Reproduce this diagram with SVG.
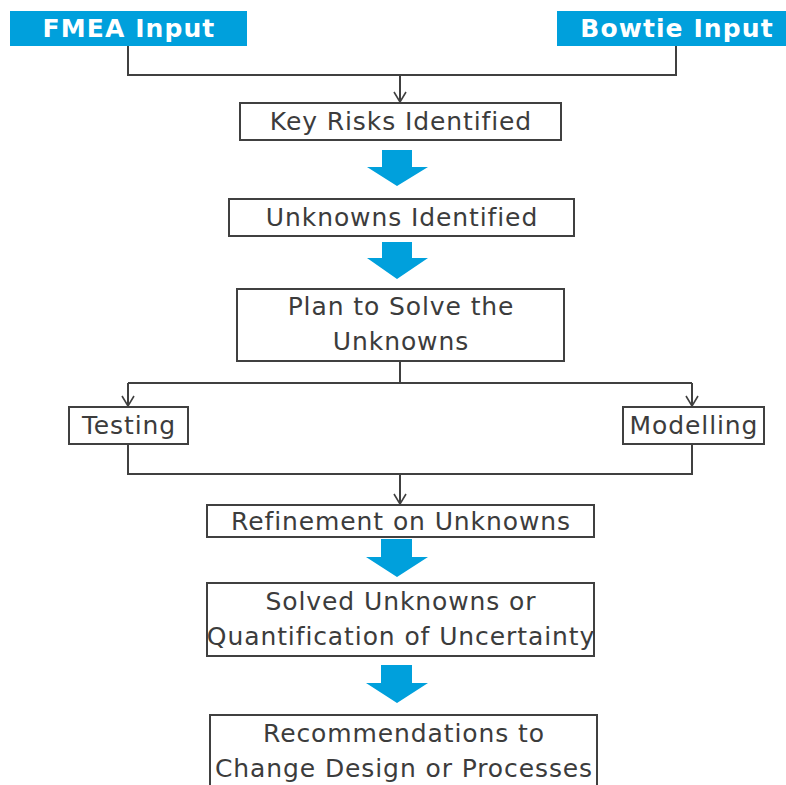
<svg xmlns="http://www.w3.org/2000/svg" width="786" height="785" viewBox="0 0 786 785">
<style>
.box{fill:#fff;stroke:#404040;stroke-width:2}
.in{fill:#00a0dc}
.t{font-family:"DejaVu Sans",Verdana,sans-serif;font-size:25px;fill:#3c3c3c;text-anchor:middle;letter-spacing:0.9px}
.tb{font-family:"DejaVu Sans",Verdana,sans-serif;font-size:25px;font-weight:bold;fill:#fff;text-anchor:middle;letter-spacing:1.1px}
.ln{fill:none;stroke:#404040;stroke-width:2}
.big{fill:#00a0dc}
</style>
<defs>
<marker id="ah" markerWidth="12" markerHeight="14" refX="11" refY="7" orient="auto" markerUnits="userSpaceOnUse" viewBox="0 0 12 14">
<path d="M1,1 L11,7 L1,13" fill="none" stroke="#404040" stroke-width="1.6"/>
</marker>
</defs>
<rect width="786" height="785" fill="#fff"/>
<g id="connectors">
<path class="ln" d="M128,46 V75 H676 V46"/>
<path class="ln" d="M400,75 V102" marker-end="url(#ah)"/>
<path class="ln" d="M400,361 V383"/>
<path class="ln" d="M128,383 H692"/>
<path class="ln" d="M128,383 V406" marker-end="url(#ah)"/>
<path class="ln" d="M692,383 V406" marker-end="url(#ah)"/>
<path class="ln" d="M128,444 V474 H692 V444"/>
<path class="ln" d="M400,474 V504" marker-end="url(#ah)"/>
<polygon class="big" points="382,150 412,150 412,167 428,167 397,186 367,167 382,167"/>
<polygon class="big" points="382,242 412,242 412,258 428,258 397,279 367,258 382,258"/>
<polygon class="big" points="381,539 412,539 412,557 428,557 397,577 366,557 381,557"/>
<polygon class="big" points="381,665 412,665 412,683 428,683 397,703 366,683 381,683"/>
</g>
<g id="fmea"><rect class="in" x="10" y="11" width="237" height="35"/><text class="tb" x="129" y="37">FMEA Input</text></g>
<g id="bowtie"><rect class="in" x="557" y="11" width="229" height="35"/><text class="tb" x="677" y="37">Bowtie Input</text></g>
<g id="keyrisks"><rect class="box" x="240" y="103" width="321" height="37"/><text class="t" x="401" y="130">Key Risks Identified</text></g>
<g id="unknowns"><rect class="box" x="229" y="199" width="345" height="37"/><text class="t" x="402" y="226">Unknowns Identified</text></g>
<g id="plan"><rect class="box" x="237" y="289" width="327" height="72"/><text class="t" x="401" y="315">Plan to Solve the</text><text class="t" x="401" y="350">Unknowns</text></g>
<g id="testing"><rect class="box" x="69" y="407" width="119" height="37"/><text class="t" x="129" y="434">Testing</text></g>
<g id="modelling"><rect class="box" x="623" y="407" width="141" height="37"/><text class="t" x="694" y="434">Modelling</text></g>
<g id="refinement"><rect class="box" x="207" y="505" width="387" height="32"/><text class="t" x="401" y="530">Refinement on Unknowns</text></g>
<g id="solved"><rect class="box" x="207" y="583" width="387" height="73"/><text class="t" x="401" y="610">Solved Unknowns or</text><text class="t" x="401" y="645">Quantification of Uncertainty</text></g>
<g id="recommend"><rect class="box" x="210" y="715" width="387" height="90"/><text class="t" x="404" y="742">Recommendations to</text><text class="t" x="404" y="777">Change Design or Processes</text></g>
</svg>
